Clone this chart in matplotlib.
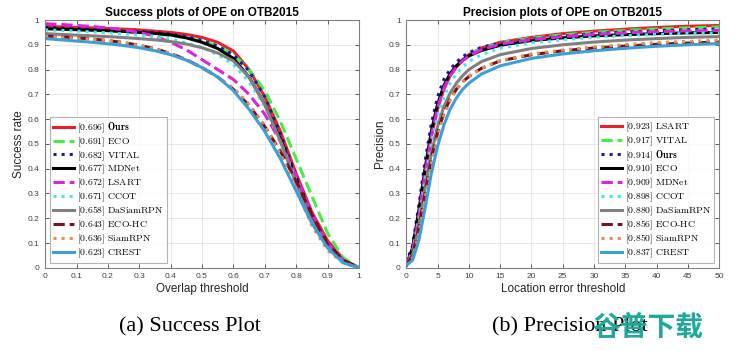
import numpy as np
import matplotlib.pyplot as plt

plt.rcParams['mathtext.fontset'] = 'cm'
plt.rcParams['font.family'] = ['Liberation Sans', 'DejaVu Sans']

# ---- success plot data (overlap threshold) ----
overlap = [0, .05, .1, .15, .2, .25, .3, .35, .4, .45, .5, .55, .6, .65, .7, .75, .8, .85, .9, .95, 1]
succ_names = ['Ours', 'ECO', 'VITAL', 'MDNet', 'LSART', 'CCOT', 'DaSiamRPN', 'ECO-HC', 'SiamRPN', 'CREST']
succ_auc = ['0.696', '0.691', '0.682', '0.677', '0.672', '0.671', '0.658', '0.643', '0.636', '0.623']
succ_ours = [0.975, 0.972, 0.970, 0.968, 0.966, 0.963, 0.960, 0.955, 0.950, 0.942, 0.930, 0.910, 0.875, 0.800, 0.690, 0.550, 0.380, 0.225, 0.110, 0.035, 0.0]
succ_eco = [0.965, 0.963, 0.960, 0.958, 0.955, 0.952, 0.948, 0.943, 0.937, 0.928, 0.915, 0.895, 0.860, 0.800, 0.715, 0.590, 0.440, 0.290, 0.140, 0.040, 0.0]
succ_vital = [0.970, 0.968, 0.966, 0.964, 0.961, 0.958, 0.954, 0.950, 0.943, 0.933, 0.918, 0.895, 0.860, 0.795, 0.690, 0.540, 0.370, 0.215, 0.100, 0.030, 0.0]
succ_mdnet = [0.965, 0.963, 0.961, 0.959, 0.957, 0.954, 0.950, 0.946, 0.940, 0.928, 0.910, 0.885, 0.845, 0.770, 0.660, 0.520, 0.360, 0.210, 0.095, 0.030, 0.0]
succ_lsart = [0.985, 0.982, 0.978, 0.974, 0.968, 0.960, 0.950, 0.935, 0.910, 0.880, 0.840, 0.800, 0.760, 0.700, 0.620, 0.510, 0.370, 0.220, 0.100, 0.030, 0.0]
succ_ccot = [0.960, 0.958, 0.955, 0.952, 0.948, 0.944, 0.939, 0.932, 0.922, 0.908, 0.890, 0.860, 0.820, 0.750, 0.650, 0.510, 0.350, 0.200, 0.090, 0.025, 0.0]
succ_dasiam = [0.945, 0.942, 0.939, 0.936, 0.933, 0.929, 0.925, 0.920, 0.913, 0.903, 0.888, 0.867, 0.835, 0.770, 0.660, 0.510, 0.340, 0.190, 0.085, 0.025, 0.0]
succ_ecohc = [0.935, 0.932, 0.928, 0.923, 0.917, 0.909, 0.898, 0.884, 0.865, 0.840, 0.808, 0.770, 0.720, 0.655, 0.570, 0.470, 0.350, 0.215, 0.095, 0.030, 0.0]
succ_siamrpn = [0.935, 0.931, 0.927, 0.922, 0.916, 0.908, 0.897, 0.883, 0.865, 0.840, 0.808, 0.770, 0.725, 0.660, 0.575, 0.460, 0.320, 0.170, 0.070, 0.020, 0.0]
succ_crest = [0.925, 0.920, 0.915, 0.910, 0.904, 0.897, 0.888, 0.876, 0.860, 0.838, 0.808, 0.770, 0.715, 0.640, 0.550, 0.440, 0.310, 0.180, 0.080, 0.020, 0.0]
succ_vals = [succ_ours, succ_eco, succ_vital, succ_mdnet, succ_lsart, succ_ccot,
             succ_dasiam, succ_ecohc, succ_siamrpn, succ_crest]

# ---- precision plot data (location error threshold) ----
loc_err = [0, 1, 2, 3, 4, 5, 6, 7, 8, 9, 10, 12, 15, 20, 25, 30, 35, 40, 45, 50]
prec_names = ['LSART', 'VITAL', 'Ours', 'ECO', 'MDNet', 'CCOT', 'DaSiamRPN', 'ECO-HC', 'SiamRPN', 'CREST']
prec_score = ['0.923', '0.917', '0.914', '0.910', '0.909', '0.898', '0.880', '0.856', '0.850', '0.837']
prec_lsart = [0.01, 0.07, 0.21, 0.38, 0.53, 0.64, 0.72, 0.775, 0.81, 0.838, 0.86, 0.887, 0.91, 0.93, 0.945, 0.955, 0.963, 0.970, 0.975, 0.978]
prec_vital = [0.01, 0.07, 0.22, 0.39, 0.54, 0.65, 0.73, 0.78, 0.815, 0.84, 0.86, 0.886, 0.908, 0.927, 0.94, 0.95, 0.958, 0.964, 0.968, 0.972]
prec_ours = [0.02, 0.09, 0.25, 0.43, 0.58, 0.69, 0.76, 0.80, 0.83, 0.852, 0.868, 0.89, 0.906, 0.923, 0.935, 0.945, 0.952, 0.957, 0.961, 0.964]
prec_eco = [0.01, 0.08, 0.23, 0.40, 0.55, 0.66, 0.735, 0.783, 0.815, 0.838, 0.855, 0.877, 0.898, 0.917, 0.928, 0.936, 0.941, 0.945, 0.948, 0.95]
prec_mdnet = [0.01, 0.07, 0.21, 0.38, 0.53, 0.645, 0.725, 0.775, 0.81, 0.835, 0.855, 0.88, 0.903, 0.921, 0.933, 0.942, 0.948, 0.953, 0.956, 0.958]
prec_ccot = [0.01, 0.06, 0.19, 0.35, 0.50, 0.61, 0.69, 0.745, 0.783, 0.81, 0.832, 0.86, 0.886, 0.908, 0.92, 0.93, 0.937, 0.942, 0.946, 0.948]
prec_dasiam = [0.01, 0.05, 0.17, 0.32, 0.46, 0.57, 0.65, 0.705, 0.745, 0.775, 0.80, 0.832, 0.86, 0.885, 0.9, 0.911, 0.919, 0.925, 0.93, 0.933]
prec_ecohc = [0.01, 0.05, 0.16, 0.30, 0.44, 0.545, 0.625, 0.68, 0.72, 0.75, 0.772, 0.805, 0.835, 0.86, 0.876, 0.887, 0.895, 0.902, 0.907, 0.911]
prec_siamrpn = [0.01, 0.04, 0.14, 0.28, 0.42, 0.53, 0.615, 0.675, 0.718, 0.75, 0.772, 0.805, 0.836, 0.863, 0.879, 0.891, 0.901, 0.909, 0.914, 0.919]
prec_crest = [0.01, 0.03, 0.11, 0.24, 0.38, 0.49, 0.575, 0.64, 0.685, 0.72, 0.745, 0.782, 0.815, 0.845, 0.863, 0.876, 0.886, 0.894, 0.9, 0.905]
prec_vals = [prec_lsart, prec_vital, prec_ours, prec_eco, prec_mdnet, prec_ccot,
             prec_dasiam, prec_ecohc, prec_siamrpn, prec_crest]

# colour / line style by legend rank (same order in both plots)
rank_styles = [
    ('#e8202a', '-'),
    ('#44ee44', '--'),
    ('#1a1aa8', ':'),
    ('#000000', '-'),
    ('#e020e0', '--'),
    ('#44e8e8', ':'),
    ('#808080', '-'),
    ('#7a1020', '--'),
    ('#e8904a', ':'),
    ('#3aa0dc', '-'),
]


def label(score, name):
    if name == 'Ours':
        return r'$\mathrm{[%s]}\ \mathbf{Ours}$' % score
    return r'$\mathrm{[%s]\ %s}$' % (score, name.replace('-', '\\text{-}'))


def setup(ax, xticks, xlabel, ylabel, title):
    ax.set_ylim(0, 1)
    ax.set_yticks(np.arange(0, 1.01, 0.1))
    ax.set_yticklabels(['0', '0.1', '0.2', '0.3', '0.4', '0.5', '0.6', '0.7', '0.8', '0.9', '1'])
    ax.set_xticks(xticks)
    ax.grid(True, color='#e4e4e4', linewidth=0.6)
    ax.set_axisbelow(True)
    ax.tick_params(direction='in', length=3, width=0.6, labelsize=6, colors='#404040',
                   top=True, right=True, pad=4)
    for s in ax.spines.values():
        s.set_color('#808080')
        s.set_linewidth(0.8)
    ax.set_xlabel(xlabel, fontsize=8.5, color='#262626', labelpad=2)
    ax.set_ylabel(ylabel, fontsize=8.5, color='#262626', labelpad=2)
    ax.set_title(title, fontsize=8.5, fontweight='bold', pad=3)


fig = plt.figure(figsize=(7.4, 3.51), dpi=100)
ax1 = fig.add_axes([0.061, 0.237, 0.424, 0.706])
ax2 = fig.add_axes([0.549, 0.237, 0.423, 0.706])

for (name, score, vals), (c, ls) in zip(zip(succ_names, succ_auc, succ_vals), rank_styles):
    ax1.plot(overlap, vals, color=c, linestyle=ls, linewidth=2.2, label=label(score, name))
ax1.set_xlim(0, 1)
setup(ax1, np.arange(0, 1.01, 0.1), 'Overlap threshold', 'Success rate', 'Success plots of OPE on OTB2015')
ax1.set_xticklabels(['0', '0.1', '0.2', '0.3', '0.4', '0.5', '0.6', '0.7', '0.8', '0.9', '1'])

for (name, score, vals), (c, ls) in zip(zip(prec_names, prec_score, prec_vals), rank_styles):
    ax2.plot(loc_err, vals, color=c, linestyle=ls, linewidth=2.2, label=label(score, name))
ax2.set_xlim(0, 50)
setup(ax2, np.arange(0, 51, 5), 'Location error threshold', 'Precision', 'Precision plots of OPE on OTB2015')

for ax, loc in ((ax1, 'lower left'), (ax2, 'lower right')):
    leg = ax.legend(loc=loc, fontsize=7, frameon=True, fancybox=False, handlelength=2.2,
                    handletextpad=0.3, labelspacing=0.06, borderpad=0.3, borderaxespad=0.5)
    leg.get_frame().set_edgecolor('#a0a0a0')
    leg.get_frame().set_linewidth(0.8)

fig.text(0.257, 0.068, '(a) Success Plot', family='Liberation Serif', fontsize=16, ha='center', va='center')
fig.text(0.77, 0.068, '(b) Precision Plot', family='Liberation Serif', fontsize=16, ha='center', va='center')
fig.text(0.876, 0.066, '谷普下载', family=['Noto Sans CJK SC', 'DejaVu Sans'], fontsize=20,
         fontweight='bold', color='#1fa89c', ha='center', va='center')

fig.savefig('out.png', dpi=100)
